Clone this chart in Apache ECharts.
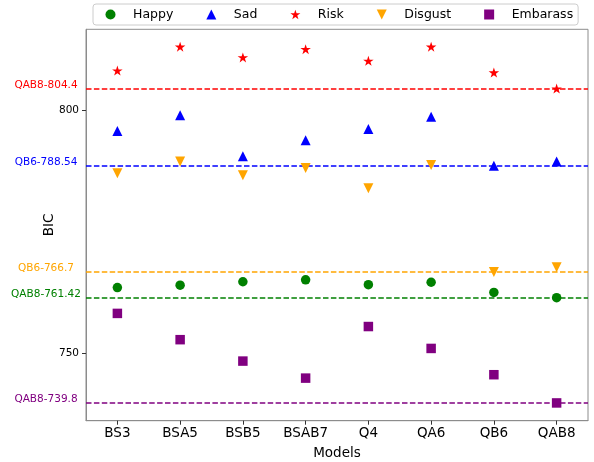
<!DOCTYPE html>
<html>
<head>
<meta charset="utf-8">
<script src="https://cdn.jsdelivr.net/npm/echarts@6/dist/echarts.min.js"></script>
<style>
  html, body { margin: 0; padding: 0; background: #fff; }
  #chart { width: 594px; height: 462px; }
</style>
</head>
<body>
<div id="chart"></div>
<script>
const categories = ['BS3', 'BSA5', 'BSB5', 'BSAB7', 'Q4', 'QA6', 'QB6', 'QAB8']

const happy = [763.5, 764.0, 764.7, 765.1, 764.1, 764.6, 762.5, 761.42]
const sad = [795.7, 798.9, 790.5, 793.8, 796.1, 798.6, 788.54, 789.4]
const risk = [808.1, 813.0, 810.8, 812.5, 810.1, 813.0, 807.7, 804.4]
const disgust = [787.0, 789.4, 786.6, 788.1, 783.9, 788.7, 766.7, 767.7]
const embarass = [758.2, 752.8, 748.4, 744.9, 755.5, 751.0, 745.6, 739.8]

const yTicks = [750, 800]

const font = 'DejaVu Sans'

// echarts has no star / down-triangle built in
const starPath = 'path://M50,0L61.2,34.5L97.6,34.5L68.2,55.9L79.4,90.5L50,69.1L20.6,90.5L31.8,55.9L2.4,34.5L38.8,34.5Z'
const downTriPath = 'path://M0,0L10,0L5,10Z'

// best (lowest BIC) model per emotion -> dashed reference line
function bestLine(values, color) {
  let idx = 0
  values.forEach((v, i) => { if (v < values[idx]) idx = i })
  const value = values[idx]
  return {
    silent: true,
    symbol: 'none',
    animation: false,
    z: 1,
    lineStyle: { color: color, type: [5.5, 2.4], width: 1.5 },
    label: {
      show: true,
      position: 'start',
      distance: 40,
      align: 'center',
      verticalAlign: 'middle',
      formatter: '{t|' + categories[idx] + '-' + value + '}',
      rich: {
        t: { color: color, fontFamily: font, fontSize: 10.5, padding: [0, 0, 7, 0] }
      }
    },
    data: [{ yAxis: value }]
  }
}

function scatter(name, values, color, symbol, size) {
  return {
    name: name,
    type: 'scatter',
    data: values,
    symbol: symbol,
    symbolSize: size,
    symbolKeepAspect: true,
    z: 5,
    itemStyle: { color: color, opacity: 1 },
    markLine: bestLine(values, color)
  }
}

const chart = echarts.init(document.getElementById('chart'))

chart.setOption({
  animation: false,
  textStyle: { fontFamily: font },
  legend: {
    left: 93,
    top: 4,
    itemWidth: 10,
    itemHeight: 10,
    itemGap: 33,
    padding: [4, 5, 4, 12.5],
    borderColor: '#cccccc',
    borderWidth: 1,
    borderRadius: 3,
    backgroundColor: '#ffffff',
    textStyle: { fontFamily: font, fontSize: 12.5, color: '#000', padding: [0, 0, 0, 12.5] },
    data: ['Happy', 'Sad', 'Risk', 'Disgust', 'Embarass']
  },
  grid: {
    left: 86,
    right: 6,
    top: 29.3,
    bottom: 41.3,
    outerBoundsMode: 'none',
    show: true,
    borderColor: '#8c8c8c',
    borderWidth: 1,
    backgroundColor: 'transparent'
  },
  xAxis: {
    type: 'category',
    data: categories,
    boundaryGap: true,
    name: 'Models',
    nameLocation: 'middle',
    nameGap: 26,
    nameMoveOverlap: false,
    nameTextStyle: { fontFamily: font, fontSize: 13.5, color: '#000' },
    axisLine: { show: true, lineStyle: { color: '#8c8c8c', width: 1 } },
    axisTick: { show: true, alignWithLabel: true, length: 4, lineStyle: { color: '#333' } },
    axisLabel: { fontFamily: font, fontSize: 13.5, color: '#000', margin: 6 },
    splitLine: { show: false }
  },
  yAxis: {
    type: 'value',
    min: 736.15,
    max: 816.58,
    name: 'BIC',
    nameLocation: 'middle',
    nameGap: 30,
    nameMoveOverlap: false,
    nameTextStyle: { fontFamily: font, fontSize: 13.5, color: '#000' },
    axisLine: { show: true, lineStyle: { color: '#8c8c8c', width: 1 } },
    axisTick: { show: true, length: 4, customValues: yTicks, lineStyle: { color: '#333' } },
    axisLabel: { fontFamily: font, fontSize: 10.5, color: '#000', margin: 7, customValues: yTicks },
    splitLine: { show: false }
  },
  series: [
    scatter('Happy', happy, '#008000', 'circle', 9.5),
    scatter('Sad', sad, '#0000ff', 'triangle', 10),
    scatter('Risk', risk, '#ff0000', starPath, 10.5),
    scatter('Disgust', disgust, '#ffa500', downTriPath, 10),
    scatter('Embarass', embarass, '#800080', 'rect', 9.5)
  ]
})
</script>
</body>
</html>
